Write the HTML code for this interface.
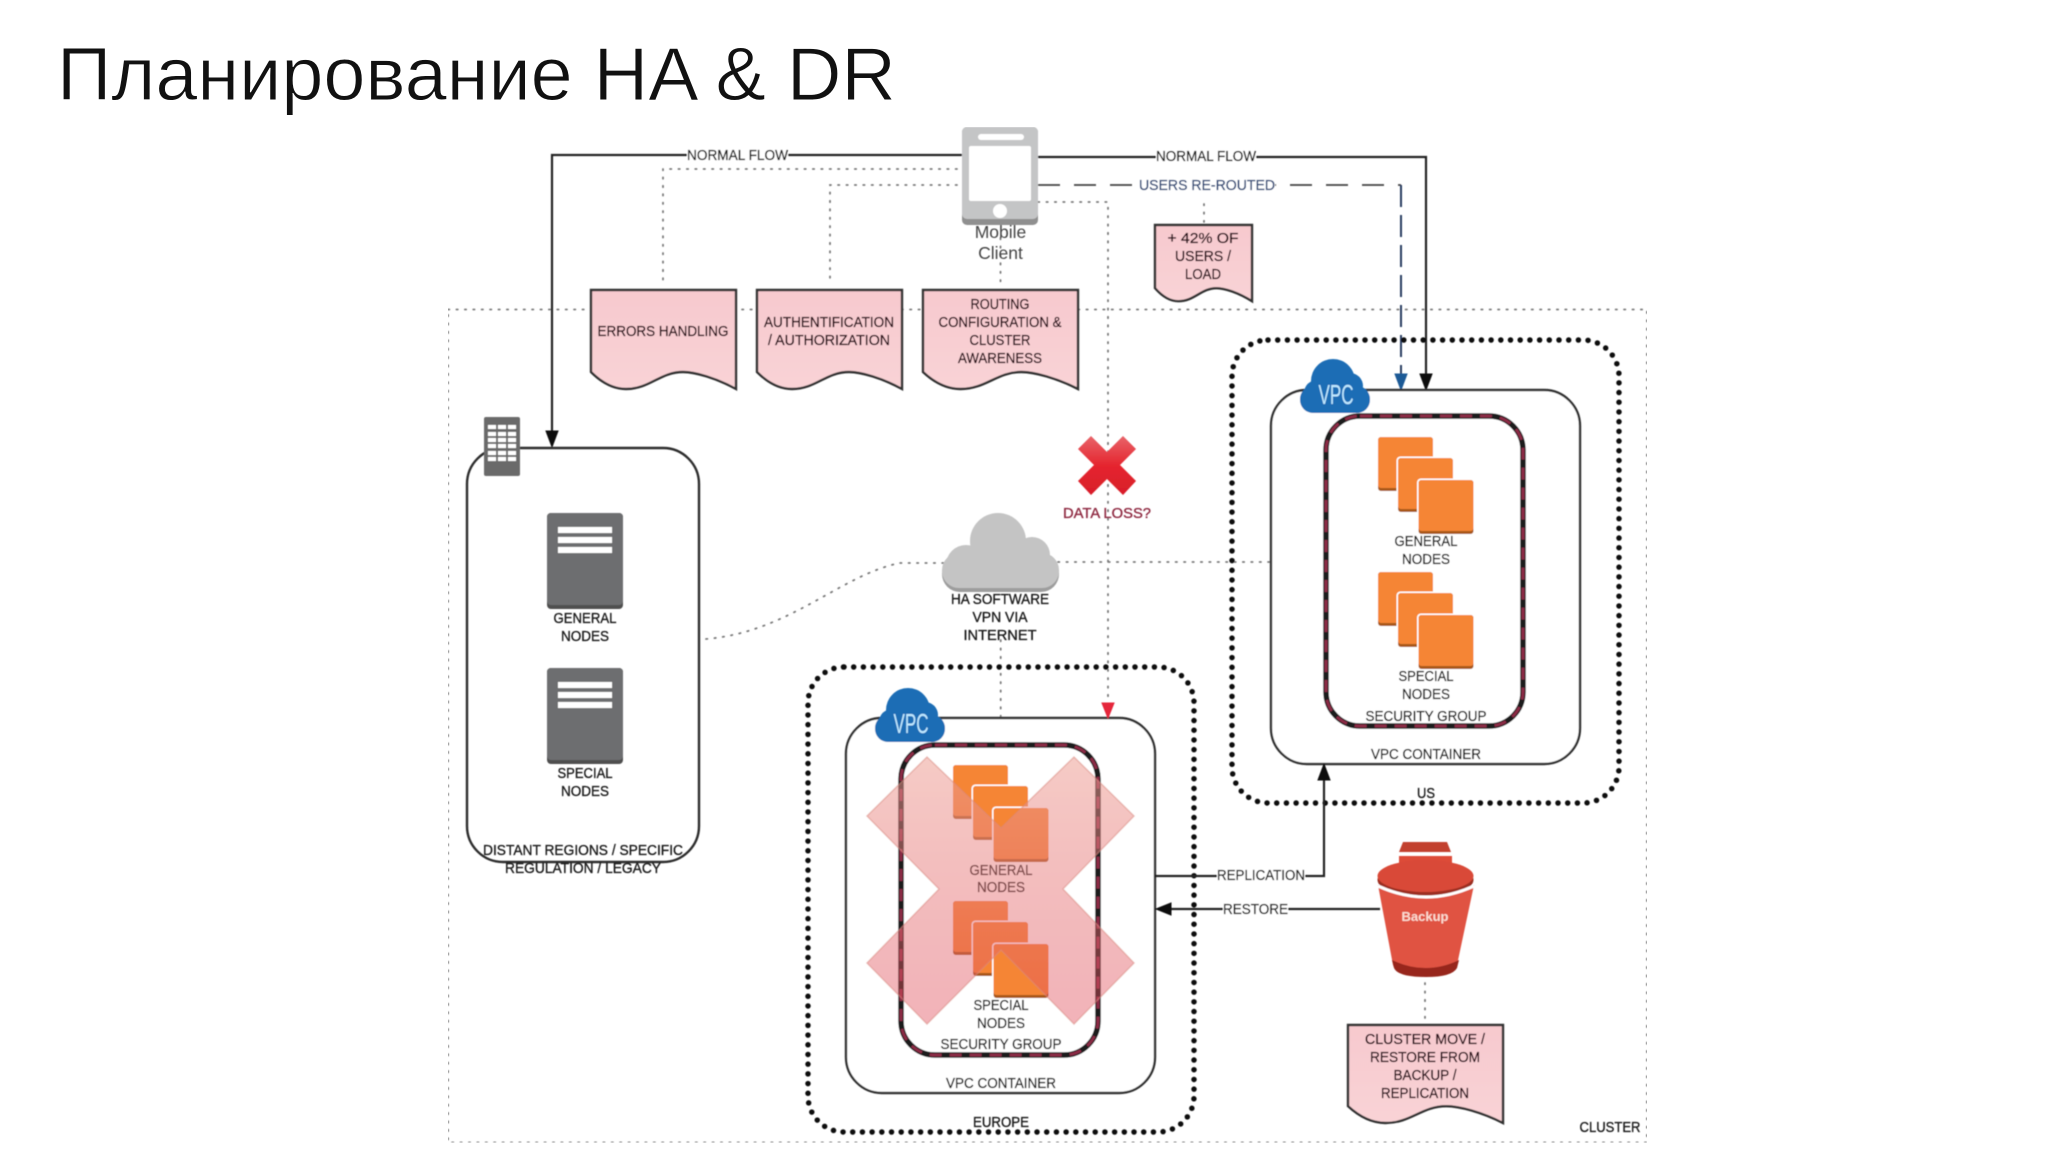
<!DOCTYPE html>
<html><head><meta charset="utf-8"><title>Планирование HA &amp; DR</title>
<style>html,body{margin:0;padding:0;background:#fff}svg{display:block}
text{font-family:"Liberation Sans","DejaVu Sans",sans-serif}
.h{font-size:15px;fill:#1c1c1c;stroke:#1c1c1c;stroke-width:.35;text-anchor:middle}
.d{font-size:15px;fill:#2a0c16;stroke:#2a0c16;stroke-width:.35;text-anchor:middle}
.dot{fill:none;stroke:#7a7a7a;stroke-width:1.8;stroke-dasharray:1.4 7;stroke-linecap:round}
.thick{fill:none;stroke:#111;stroke-width:5.5;stroke-dasharray:0 9.7;stroke-linecap:round}
.ln{fill:none;stroke:#222;stroke-width:2.2}
.box{fill:#fff;stroke:#333;stroke-width:2.4}
</style></head><body>
<svg xmlns="http://www.w3.org/2000/svg" width="2048" height="1152" viewBox="0 0 2048 1152">
<defs>
<filter id="b" x="0" y="0" width="100%" height="100%"><feGaussianBlur stdDeviation=".45"/></filter>
<linearGradient id="xg" x1="0" y1="0" x2="0" y2="1"><stop offset="0" stop-color="#eda096" stop-opacity=".55"/><stop offset="1" stop-color="#e04a58" stop-opacity=".42"/></linearGradient>
<linearGradient id="rx" x1="0" y1="0" x2="0" y2="1"><stop offset="0" stop-color="#e8646a"/><stop offset=".5" stop-color="#e5252f"/><stop offset="1" stop-color="#d81e2a"/></linearGradient>
<linearGradient id="pk" x1="0" y1="0" x2="0" y2="1"><stop offset="0" stop-color="#f7c9ce"/><stop offset="1" stop-color="#f9d3d6"/></linearGradient>
<path id="doc" vector-effect="non-scaling-stroke" d="M0 0H145V99C125 88 104 82 92 82C69 82 59 99 35 99C21 99 9 91 0 82Z" fill="url(#pk)" stroke="#333" stroke-width="2.4"/>
<g id="sq"><rect x="-1.5" y="-1.5" width="58" height="57" rx="4" fill="#fff"/><rect width="55" height="54" rx="3" fill="#a9581a"/><rect width="55" height="51" rx="3" fill="#f58534"/></g>
<g id="stack"><use href="#sq"/><use href="#sq" x="20" y="21"/><use href="#sq" x="40.5" y="43"/></g>
<g id="srv"><rect width="76" height="96" rx="4" fill="#4f4f4f"/><rect width="76" height="92" rx="4" fill="#6d6e70"/>
<rect x="11" y="14" width="54" height="6" fill="#fff"/><rect x="11" y="24" width="54" height="6" fill="#fff"/><rect x="11" y="34" width="54" height="6" fill="#fff"/></g>
<g id="vpc" fill="#1b6db5"><circle cx="33" cy="22" r="22"/><circle cx="50" cy="27" r="13"/><circle cx="17" cy="34" r="13"/><rect x="0" y="27" width="70" height="27" rx="13"/></g>
</defs>
<rect width="2048" height="1152" fill="#fff"/>
<text x="57" y="100" font-size="75" fill="#111" stroke="#fff" stroke-width=".9" textLength="839" lengthAdjust="spacingAndGlyphs">Планирование HA &amp; DR</text>

<g filter="url(#b)">
<rect x="448" y="309.5" width="1199" height="833" class="dot"/>

<!-- connectors -->
<path class="dot" d="M957 169H663V283"/>
<path class="dot" d="M957 185H830V283"/>
<path class="dot" d="M1000.5 238V283"/>
<path class="dot" d="M1038 202H1108V703"/>
<path class="dot" d="M1204 204V222"/>
<path class="dot" d="M1425 983V1018"/>
<path class="dot" d="M706 639C790 632 840 575 900 563H945"/>
<path class="dot" d="M1058 562H1273"/>
<path class="dot" d="M1000.7 640V718"/>
<path class="ln" d="M962 155H552V432"/>
<path d="M546 431H558L552 447Z" fill="#111" stroke="#111"/>
<path class="ln" d="M1038 157H1426V376"/>
<path d="M1420 374H1432L1426 390Z" fill="#111" stroke="#111"/>
<path d="M1038 185H1401" fill="none" stroke="#444" stroke-width="1.8" stroke-dasharray="22 14"/>
<path d="M1401 185V376" fill="none" stroke="#2a3e62" stroke-width="2" stroke-dasharray="22 8"/>
<path d="M1395 374H1407L1401 390Z" fill="#1f5a96" stroke="#1f5a96"/>

<!-- left region -->
<rect x="467" y="448" width="232" height="414" rx="36" fill="none" stroke="#2d2d2d" stroke-width="2.4"/>
<rect x="484" y="417" width="36" height="59" rx="2" fill="#6a6a6a"/>
<g fill="#fff"><rect x="488" y="425" width="8" height="4"/><rect x="498" y="425" width="8" height="4"/><rect x="508" y="425" width="8" height="4"/><rect x="488" y="432" width="8" height="4"/><rect x="498" y="432" width="8" height="4"/><rect x="508" y="432" width="8" height="4"/><rect x="488" y="438" width="8" height="4"/><rect x="498" y="438" width="8" height="4"/><rect x="508" y="438" width="8" height="4"/><rect x="488" y="444" width="8" height="4"/><rect x="498" y="444" width="8" height="4"/><rect x="508" y="444" width="8" height="4"/><rect x="488" y="451" width="8" height="4"/><rect x="498" y="451" width="8" height="4"/><rect x="508" y="451" width="8" height="4"/><rect x="488" y="457" width="8" height="4"/><rect x="498" y="457" width="8" height="4"/><rect x="508" y="457" width="8" height="4"/></g>
<use href="#srv" x="547" y="513"/><use href="#srv" x="547" y="668"/>
<text class="h" x="585" y="623" textLength="63" lengthAdjust="spacingAndGlyphs">GENERAL</text>
<text class="h" x="585" y="641" textLength="48" lengthAdjust="spacingAndGlyphs">NODES</text>
<text class="h" x="585" y="778" textLength="55" lengthAdjust="spacingAndGlyphs">SPECIAL</text>
<text class="h" x="585" y="796" textLength="48" lengthAdjust="spacingAndGlyphs">NODES</text>
<text class="h" x="583" y="855" textLength="200" lengthAdjust="spacingAndGlyphs">DISTANT REGIONS / SPECIFIC</text>
<text class="h" x="583" y="873" textLength="156" lengthAdjust="spacingAndGlyphs">REGULATION / LEGACY</text>

<!-- US region -->
<rect x="1232" y="340" width="387" height="463" rx="36" class="thick"/>
<rect x="1271" y="390" width="309" height="374" rx="36" class="box"/>
<use href="#vpc" x="1300" y="359"/>
<text x="1336" y="404" font-size="28" fill="#bfe8ff" text-anchor="middle" textLength="35" lengthAdjust="spacingAndGlyphs">VPC</text>
<rect x="1326" y="416" width="197" height="310" rx="34" fill="none" stroke="#1a1a1a" stroke-width="5.5"/>
<rect x="1326" y="416" width="197" height="310" rx="34" fill="none" stroke="#8a2a45" stroke-width="3" stroke-dasharray="12 8"/>
<use href="#stack" x="1378" y="437"/><use href="#stack" x="1378" y="572"/>
<text class="h" x="1426" y="546" textLength="63" lengthAdjust="spacingAndGlyphs">GENERAL</text>
<text class="h" x="1426" y="564" textLength="48" lengthAdjust="spacingAndGlyphs">NODES</text>
<text class="h" x="1426" y="681" textLength="55" lengthAdjust="spacingAndGlyphs">SPECIAL</text>
<text class="h" x="1426" y="699" textLength="48" lengthAdjust="spacingAndGlyphs">NODES</text>
<text class="h" x="1426" y="721" textLength="121" lengthAdjust="spacingAndGlyphs">SECURITY GROUP</text>
<text class="h" x="1426" y="759" textLength="110" lengthAdjust="spacingAndGlyphs">VPC CONTAINER</text>
<text class="h" x="1426" y="798" textLength="18" lengthAdjust="spacingAndGlyphs">US</text>

<!-- Europe region -->
<rect x="808" y="667" width="386" height="465" rx="36" class="thick"/>
<rect x="846" y="718" width="309" height="375" rx="36" class="box"/>
<use href="#vpc" x="875" y="688"/>
<text x="911" y="733" font-size="28" fill="#bfe8ff" text-anchor="middle" textLength="35" lengthAdjust="spacingAndGlyphs">VPC</text>
<rect x="901" y="745" width="197" height="310" rx="34" fill="none" stroke="#1a1a1a" stroke-width="5.5"/>
<rect x="901" y="745" width="197" height="310" rx="34" fill="none" stroke="#8a2a45" stroke-width="3" stroke-dasharray="12 8"/>
<use href="#stack" x="953" y="765"/><use href="#stack" x="953" y="901"/>
<text class="h" x="1001" y="875" textLength="63" lengthAdjust="spacingAndGlyphs">GENERAL</text>
<text class="h" x="1001" y="892" textLength="48" lengthAdjust="spacingAndGlyphs">NODES</text>
<text class="h" x="1001" y="1010" textLength="55" lengthAdjust="spacingAndGlyphs">SPECIAL</text>
<text class="h" x="1001" y="1028" textLength="48" lengthAdjust="spacingAndGlyphs">NODES</text>
<text class="h" x="1001" y="1049" textLength="121" lengthAdjust="spacingAndGlyphs">SECURITY GROUP</text>
<text class="h" x="1001" y="1088" textLength="110" lengthAdjust="spacingAndGlyphs">VPC CONTAINER</text>
<text class="h" x="1001" y="1127" textLength="56" lengthAdjust="spacingAndGlyphs">EUROPE</text>
<polygon points="927,757 1001,828 1074,757 1134,816 1063,889 1134,963 1074,1024 1001,950 927,1024 867,963 939,889 867,816" fill="url(#xg)" stroke="#d98a80" stroke-opacity=".5" stroke-width="1.5"/>
<path d="M1102 703H1114L1108 718Z" fill="#e5253a" stroke="#e5253a"/>

<!-- replication / restore -->
<path class="ln" d="M1154 876H1324V779"/>
<path d="M1318 780H1330L1324 764Z" fill="#111" stroke="#111"/>
<path class="ln" d="M1380 909H1170"/>
<path d="M1171 903V915L1156 909Z" fill="#111" stroke="#111"/>

<!-- white label knockouts -->
<g fill="#fff"><rect x="687" y="145" width="101" height="20"/><rect x="1156" y="147" width="100" height="20"/><rect x="1139" y="175" width="136" height="20"/><rect x="1217" y="866" width="88" height="20"/><rect x="1223" y="899" width="65" height="20"/></g>
<text class="h" x="737.5" y="160" textLength="101" lengthAdjust="spacingAndGlyphs">NORMAL FLOW</text>
<text class="h" x="1206" y="161" textLength="100" lengthAdjust="spacingAndGlyphs">NORMAL FLOW</text>
<text class="h" x="1207" y="190" textLength="136" lengthAdjust="spacingAndGlyphs" style="fill:#2f4a78;stroke:#2f4a78">USERS RE-ROUTED</text>
<text class="h" x="1261" y="880" textLength="88" lengthAdjust="spacingAndGlyphs">REPLICATION</text>
<text class="h" x="1255.5" y="914" textLength="65" lengthAdjust="spacingAndGlyphs">RESTORE</text>

<!-- phone -->
<rect x="962" y="127" width="76" height="98" rx="5" fill="#8f8f8f"/>
<rect x="962" y="127" width="76" height="92" rx="5" fill="#c4c5c6"/>
<rect x="978" y="134" width="46" height="6" rx="3" fill="#fff"/>
<rect x="969" y="146" width="62" height="55" rx="2" fill="#fff"/>
<circle cx="1000" cy="211" r="7" fill="#fff"/>
<text x="1000.5" y="238" font-size="17.5" fill="#444" text-anchor="middle">Mobile</text>
<text x="1000.5" y="259" font-size="17.5" fill="#444" text-anchor="middle">Client</text>

<!-- docs -->
<use href="#doc" x="591" y="290"/>
<use href="#doc" x="757" y="290"/>
<use href="#doc" transform="translate(923 290) scale(1.069 1)"/>
<use href="#doc" transform="translate(1155 225) scale(.669 .77)"/>
<use href="#doc" transform="translate(1348 1025) scale(1.069 .99)"/>
<text class="d" x="663" y="336" textLength="131" lengthAdjust="spacingAndGlyphs">ERRORS HANDLING</text>
<text class="d" x="829" y="327" textLength="130" lengthAdjust="spacingAndGlyphs">AUTHENTIFICATION</text>
<text class="d" x="829" y="345" textLength="122" lengthAdjust="spacingAndGlyphs">/ AUTHORIZATION</text>
<text class="d" x="1000" y="309" textLength="59" lengthAdjust="spacingAndGlyphs">ROUTING</text>
<text class="d" x="1000" y="327" textLength="123" lengthAdjust="spacingAndGlyphs">CONFIGURATION &amp;</text>
<text class="d" x="1000" y="345" textLength="61" lengthAdjust="spacingAndGlyphs">CLUSTER</text>
<text class="d" x="1000" y="363" textLength="84" lengthAdjust="spacingAndGlyphs">AWARENESS</text>
<text class="d" x="1203" y="243" textLength="71" lengthAdjust="spacingAndGlyphs">+ 42% OF</text>
<text class="d" x="1203" y="261" textLength="56" lengthAdjust="spacingAndGlyphs">USERS /</text>
<text class="d" x="1203" y="279" textLength="36" lengthAdjust="spacingAndGlyphs">LOAD</text>
<text class="d" x="1425" y="1044" textLength="120" lengthAdjust="spacingAndGlyphs">CLUSTER MOVE /</text>
<text class="d" x="1425" y="1062" textLength="110" lengthAdjust="spacingAndGlyphs">RESTORE FROM</text>
<text class="d" x="1425" y="1080" textLength="63" lengthAdjust="spacingAndGlyphs">BACKUP /</text>
<text class="d" x="1425" y="1098" textLength="88" lengthAdjust="spacingAndGlyphs">REPLICATION</text>
<text class="h" x="1610" y="1132" textLength="61" lengthAdjust="spacingAndGlyphs">CLUSTER</text>

<!-- red X -->
<polygon points="1091,436 1107,452 1123,436 1136,449 1120,465 1136,481 1123,495 1107,479 1091,495 1078,481 1094,465 1078,449" fill="url(#rx)"/>
<text class="h" x="1107" y="518" textLength="88" lengthAdjust="spacingAndGlyphs" style="fill:#8f2a42;stroke:#8f2a42">DATA LOSS?</text>

<!-- gray cloud -->
<g fill="#9d9d9d"><rect x="942" y="556" width="117" height="36" rx="18"/></g>
<g fill="#c4c4c4"><circle cx="998" cy="541" r="28"/><circle cx="1032" cy="555" r="18"/><circle cx="966" cy="565" r="20"/><rect x="942" y="553" width="117" height="35" rx="17"/></g>
<text class="h" x="1000" y="604" textLength="98" lengthAdjust="spacingAndGlyphs">HA SOFTWARE</text>
<text class="h" x="1000" y="622" textLength="55" lengthAdjust="spacingAndGlyphs">VPN VIA</text>
<text class="h" x="1000" y="640" textLength="73" lengthAdjust="spacingAndGlyphs">INTERNET</text>

<!-- bucket -->
<path d="M1403 842H1447L1451 852H1399Z" fill="#c2402f"/>
<rect x="1399" y="856" width="53" height="14" fill="#dd4b39"/>
<path d="M1378 885L1393 965Q1396 976 1426 976Q1454 976 1457 965L1474 885Q1426 908 1378 885Z" fill="#e05243"/>
<path d="M1392 960Q1426 976 1459 960L1457 968Q1452 977 1426 977Q1398 977 1394 968Z" fill="#97281c"/>
<ellipse cx="1425.5" cy="880" rx="48" ry="17" fill="#9c2f20"/>
<ellipse cx="1425.5" cy="876" rx="48" ry="16" fill="#d94a38"/>
<path d="M1378 886Q1426 908 1474 886" fill="none" stroke="#fff" stroke-width="3"/>
<text x="1425" y="921" font-size="13" font-weight="bold" fill="#fbdcd2" text-anchor="middle">Backup</text>
</g>
</svg>
</body></html>
